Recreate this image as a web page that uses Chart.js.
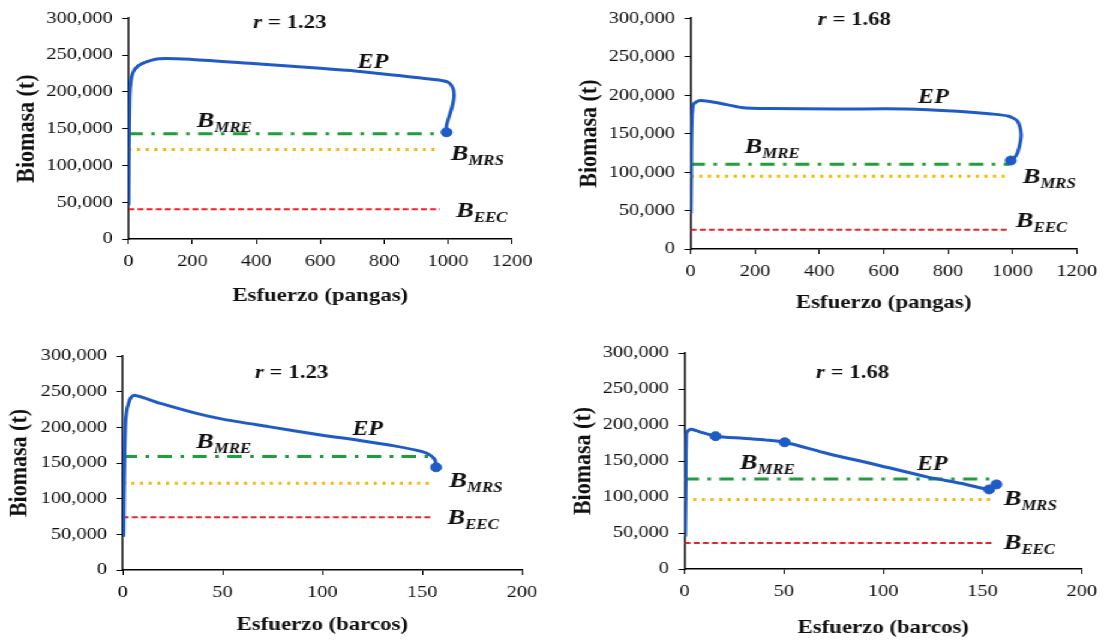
<!DOCTYPE html>
<html>
<head>
<meta charset="utf-8">
<script src="https://cdn.jsdelivr.net/npm/chart.js@4"></script>
<style>
  body { margin: 0; background: #fff; overflow: hidden; }
  #wrap { position: absolute; left: 0; top: 0; width: 920.83px; height: 643px; transform: scaleX(1.2); transform-origin: 0 0; }
  .panel { position: absolute; }
</style>
</head>
<body>
<div id="wrap"></div>
<script>
// ---- data ----
const effort1 = [1, 2, 4, 8, 19, 41, 97, 200, 400, 600, 716, 846, 908, 971, 1002, 1016, 1018, 1012, 1002, 995, 995];
const biomass1 = [46000, 120000, 190000, 215000, 230000, 238000, 245000, 244000, 238000, 232000, 228000, 222000, 219000, 216000, 212500, 204000, 192000, 179000, 165000, 154000, 146000];

const effort2 = [1, 2, 3, 8.5, 30, 83, 158, 243, 457, 670, 830, 936, 989, 1016, 1027, 1021, 1011, 995];
const biomass2 = [46000, 100000, 149000, 187500, 193000, 190000, 184000, 182500, 182000, 182000, 179000, 175500, 172500, 166000, 149000, 132000, 121000, 115000];

const effort3 = [0.4, 0.9, 1.6, 3.4, 5.7, 19, 37, 50, 73, 100, 118, 136, 150, 154, 156.5, 157];
const biomass3 = [46500, 163000, 215000, 238000, 245000, 233500, 219500, 211500, 201000, 189000, 182000, 174000, 166000, 161000, 154000, 145000];

const effort4 = [0.3, 0.6, 0.9, 2, 3.4, 7.6, 15.6, 29.4, 41.2, 50.4, 71.9, 97, 122, 139, 153.3, 155.5, 157];
const biomass4 = [45000, 120000, 188000, 192500, 194000, 190500, 184500, 181500, 179000, 176000, 160500, 144500, 128000, 119000, 110500, 114000, 117500];

const markerEffort = [[995], [995], [157], [15.6, 50.4, 153.3, 157]];
const markerBiomass = [[145000], [115000], [144000], [184500, 176000, 110500, 117500]];

const bMRE = [143000, 110000, 159000, 125000];
const bMRS = [121500, 94700, 121500, 96500];
const bEEC = [40500, 25000, 73800, 36000];
const refLineEnd = [974, 990, 154.6, 155];

const rValues = ['1.23', '1.68', '1.23', '1.68'];
const xTitles = ['Esfuerzo (pangas)', 'Esfuerzo (pangas)', 'Esfuerzo (barcos)', 'Esfuerzo (barcos)'];
const xMax = [1200, 1200, 200, 200];
const xStep = [200, 200, 50, 50];

const effortSets = [effort1, effort2, effort3, effort4];
const biomassSets = [biomass1, biomass2, biomass3, biomass4];

// text anchors in data units: [x, y] for r title (centre), EP, B_MRE, B_MRS, B_EEC (left, middle)
const titleAt = [[505, 293000], [509, 297000], [84.6, 276000], [84.6, 272000]];
const epAt = [[717, 239000], [707, 196000], [115, 196000], [117, 145000]];
const mreAt = [[214, 160000], [168, 132000], [36.8, 178500], [27.8, 147000]];
const mrsAt = [[1008, 115600], [1032, 93400], [163.6, 123800], [160.7, 96300]];
const eecAt = [[1025, 38000], [1011, 35600], [162.7, 72400], [160.7, 36000]];

// ---- layout (unstretched px; page is stretched 1.2x horizontally) ----
const boxes = [
  { left: 0, top: 0, w: 462.5, h: 318, plotLeft: 106.7, padR: 36.7, padT: 17, xH: 79, xTitlePad: 10.6, yTitlePad: 9 },
  { left: 462.5, top: 0, w: 458.3, h: 318, plotLeft: 112.5, padR: 22.5, padT: 16, xH: 69, xTitlePad: 3.6, yTitlePad: 15.6 },
  { left: 0, top: 318, w: 462.5, h: 325, plotLeft: 102, padR: 28.5, padT: 38, xH: 73, xTitlePad: 6.6, yTitlePad: 3 },
  { left: 462.5, top: 318, w: 458.3, h: 325, plotLeft: 107.5, padR: 19.3, padT: 35, xH: 74, xTitlePad: 3.6, yTitlePad: 10.6 },
];

const SERIF = "'Liberation Serif', 'Times New Roman', serif";
const BLUE = '#1F5BC6';

function subLabel(ctx, x, y, main, sub) {
  ctx.font = 'italic bold 22px ' + SERIF;
  ctx.textBaseline = 'middle';
  ctx.textAlign = 'left';
  ctx.fillStyle = '#111';
  ctx.fillText(main, x, y);
  const w = ctx.measureText(main).width;
  if (sub) {
    ctx.font = 'italic bold 14px ' + SERIF;
    ctx.fillText(sub, x + w, y + 7);
  }
}

const annotate = {
  id: 'annotate',
  afterDatasetsDraw(chart) {
    const i = chart.options.plugins.annotate.index;
    const ctx = chart.ctx;
    const xs = chart.scales.x, ys = chart.scales.y;
    const px = p => [xs.getPixelForValue(p[0]), ys.getPixelForValue(p[1])];
    ctx.save();
    // r title
    const [tx, ty] = px(titleAt[i]);
    ctx.textBaseline = 'middle';
    ctx.font = 'italic bold 19px ' + SERIF;
    const wr = ctx.measureText('r').width;
    ctx.font = 'bold 19px ' + SERIF;
    const rest = ' = ' + rValues[i];
    const wRest = ctx.measureText(rest).width;
    const x0 = tx - (wr + wRest) / 2;
    ctx.fillStyle = '#111';
    ctx.textAlign = 'left';
    ctx.font = 'italic bold 19px ' + SERIF;
    ctx.fillText('r', x0, ty);
    ctx.font = 'bold 19px ' + SERIF;
    ctx.fillText(rest, x0 + wr, ty);
    // EP
    const [ex, ey] = px(epAt[i]);
    ctx.font = 'italic bold 20px ' + SERIF;
    ctx.fillText('EP', ex, ey);
    // B labels
    let p = px(mreAt[i]); subLabel(ctx, p[0], p[1], 'B', 'MRE');
    p = px(mrsAt[i]); subLabel(ctx, p[0], p[1], 'B', 'MRS');
    p = px(eecAt[i]); subLabel(ctx, p[0], p[1], 'B', 'EEC');
    ctx.restore();
  }
};

function refLine(value, end, color, dash, width) {
  return {
    data: [{ x: 0, y: value }, { x: end, y: value }],
    showLine: true, borderColor: color, borderDash: dash, borderWidth: width,
    pointRadius: 0, fill: false, order: 2,
  };
}

const wrap = document.getElementById('wrap');
boxes.forEach((b, i) => {
  const div = document.createElement('div');
  div.className = 'panel';
  div.style.left = b.left + 'px';
  div.style.top = b.top + 'px';
  div.style.width = b.w + 'px';
  div.style.height = b.h + 'px';
  const cvn = document.createElement('canvas');
  div.appendChild(cvn);
  wrap.appendChild(div);

  const curve = effortSets[i].map((e, k) => ({ x: e, y: biomassSets[i][k] }));
  const marks = markerEffort[i].map((e, k) => ({ x: e, y: markerBiomass[i][k] }));

  new Chart(cvn.getContext('2d'), {
    type: 'scatter',
    data: {
      datasets: [
        refLine(bMRE[i], refLineEnd[i], '#1F9E3A', [12, 7, 3, 7], 3),
        refLine(bMRS[i], refLineEnd[i], '#F5B800', [2.6, 4.6], 3),
        refLine(bEEC[i], refLineEnd[i], '#E8242B', [5, 2.6], 2),
        {
          data: curve, showLine: true, borderColor: BLUE, borderWidth: 3,
          tension: 0.25, pointRadius: 0, fill: false, order: 1,
        },
        {
          data: marks, showLine: false, backgroundColor: BLUE, borderColor: BLUE,
          pointRadius: 4.5, order: 0,
        },
      ],
    },
    options: {
      responsive: true,
      maintainAspectRatio: false,
      animation: false,
      layout: { padding: { left: 0, right: b.padR, top: b.padT, bottom: 0 } },
      plugins: {
        legend: { display: false },
        tooltip: { enabled: false },
        annotate: { index: i },
      },
      scales: {
        x: {
          type: 'linear', min: 0, max: xMax[i],
          afterFit: s => { s.height = b.xH; },
          border: { display: true, color: '#000', width: 1.5 },
          grid: { display: true, drawOnChartArea: false, drawTicks: true, tickLength: 5, color: '#000' },
          ticks: { stepSize: xStep[i], color: '#111', padding: 7, font: { family: SERIF, size: 17 },
                   callback: v => String(v) },
          title: { display: true, text: xTitles[i], color: '#111', padding: { top: 0, bottom: b.xTitlePad },
                   font: { family: SERIF, size: 19, weight: 'bold' } },
        },
        y: {
          type: 'linear', min: 0, max: 300000,
          afterFit: s => { s.width = b.plotLeft; },
          border: { display: true, color: '#000', width: 1.5 },
          grid: { display: true, drawOnChartArea: false, drawTicks: true, tickLength: 5, color: '#000' },
          ticks: { stepSize: 50000, color: '#111', padding: 8, font: { family: SERIF, size: 17 },
                   callback: v => v.toLocaleString('en-US') },
          title: { display: true, text: 'Biomasa (t)', color: '#111', padding: { top: b.yTitlePad, bottom: 0 },
                   font: { family: SERIF, size: 22, weight: 'bold' } },
        },
      },
    },
    plugins: [annotate],
  });
});
</script>
</body>
</html>
